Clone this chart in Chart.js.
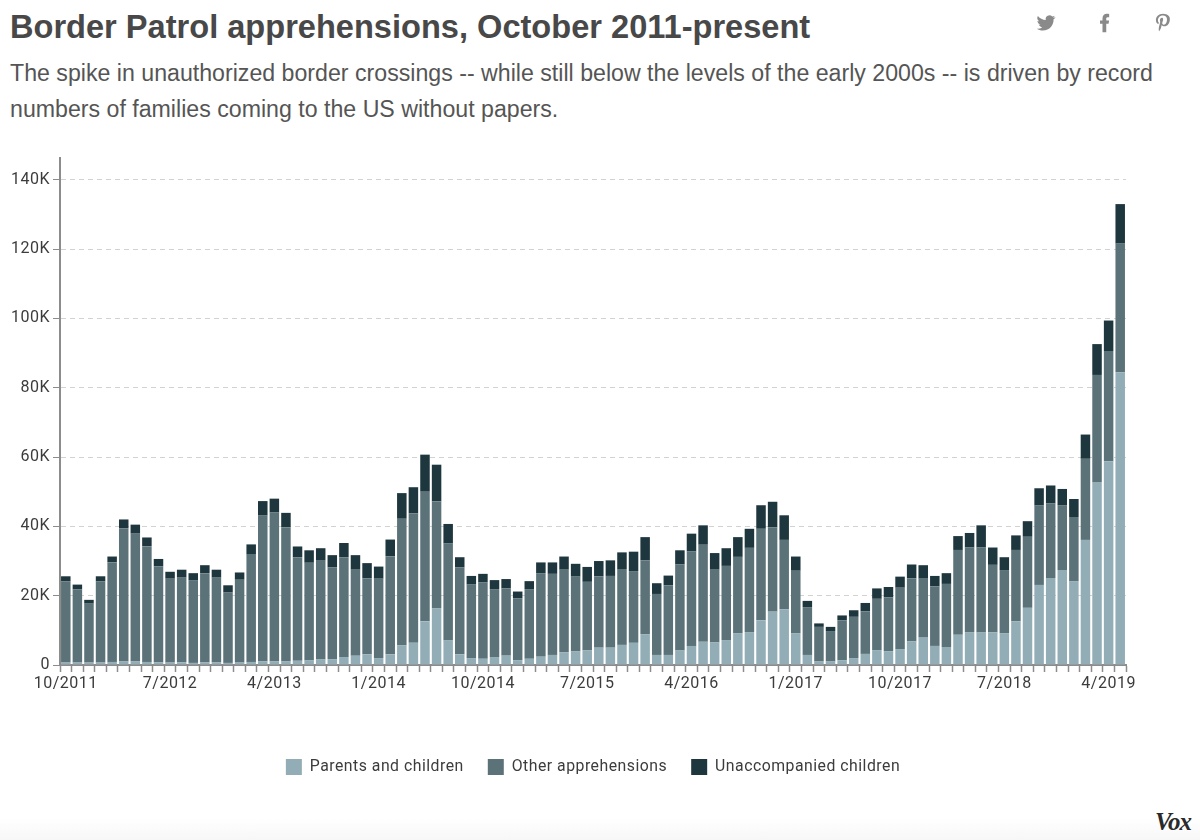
<!DOCTYPE html>
<html>
<head>
<meta charset="utf-8">
<title>Border Patrol apprehensions</title>
<script src="https://cdn.jsdelivr.net/npm/chart.js@4/dist/chart.umd.min.js"></script>
<style>
  html, body { margin: 0; padding: 0; background: #fff; }
  body { width: 1200px; height: 840px; position: relative; overflow: hidden; font-family: "Liberation Sans", sans-serif; }
  h1 { position: absolute; left: 10px; top: 8px; margin: 0; font-size: 32.6px; line-height: 38px; font-weight: bold; color: #484848; white-space: nowrap; }
  p { position: absolute; left: 10px; top: 55px; margin: 0; font-size: 23.17px; line-height: 36px; color: #555; white-space: nowrap; }
  #chart { position: absolute; left: 0; top: 0; }
  #fade { position: absolute; left: 0; right: 0; bottom: 0; height: 22px; background: linear-gradient(#fff, #f7f7f7); }
  .icon { position: absolute; top: 13px; width: 20px; height: 20px; fill: #8a8a8a; }
  #vox { position: absolute; left: 1155px; top: 808px; font: italic bold 25px "Liberation Serif", serif; letter-spacing: -1px; color: #2a2a2a; }
</style>
</head>
<body>
<div id="fade"></div>
<h1>Border Patrol apprehensions, October 2011-present</h1>
<p>The spike in unauthorized border crossings -- while still below the levels of the early 2000s -- is driven by record<br>numbers of families coming to the US without papers.</p>
<svg class="icon" style="left:1036px" viewBox="0 0 24 24"><path d="M23 5c-.8.4-1.700.6-2.600.7.900-.6 1.600-1.400 2-2.500-.9.500-1.800.9-2.900 1.100A4.600 4.600 0 0 0 11.700 8.500 13 13 0 0 1 2.300 3.700a4.600 4.600 0 0 0 1.400 6.100c-.7 0-1.400-.2-2-.6 0 2.200 1.500 4.100 3.700 4.600-.7.200-1.400.2-2.100.1.600 1.800 2.300 3.100 4.300 3.200A9.300 9.300 0 0 1 1 19c2.100 1.300 4.500 2.100 7.100 2.100 8.500 0 13.300-7.200 13-13.600.9-.7 1.700-1.500 2.300-2.500z"/></svg>
<svg class="icon" style="left:1095px" viewBox="0 0 24 24"><path d="M9 23V13H6V9h3V6.500C9 3 11 1 14.200 1c1.400 0 2.800.2 2.800.2V5h-1.800C13.600 5 13.500 6 13.500 7v2h3.400l-.6 4h-2.800v10z"/></svg>
<svg class="icon" style="left:1153px" viewBox="0 0 24 24"><path d="M12.300 1C6.300 1 3.500 5 3.500 8.500c0 2.100.8 4 2.500 4.700.3.100.5 0 .6-.3l.3-1c.1-.3 0-.4-.2-.7-.5-.6-.8-1.300-.8-2.400 0-3 2.300-5.800 5.900-5.800 3.200 0 5 2 5 4.600 0 3.500-1.500 6.400-3.800 6.400-1.300 0-2.200-1-1.900-2.300.4-1.500 1.100-3.200 1.100-4.300 0-1-.5-1.800-1.600-1.800-1.300 0-2.300 1.300-2.300 3.100 0 1.100.4 1.900.4 1.900l-1.600 6.600c-.4 1.900-.1 4.300 0 4.500 0 .2.200.2.300.1.100-.2 1.700-2.100 2.200-4l.9-3.400c.4.800 1.700 1.600 3 1.600 4 0 6.700-3.600 6.700-8.500C20.700 4.500 17.300 1 12.300 1z"/></svg>
<div id="vox">Vox</div>
<canvas id="chart" width="1200" height="785"></canvas>
<script>
const monthLabels = [
  '10/2011','11/2011','12/2011','1/2012','2/2012','3/2012','4/2012','5/2012','6/2012','7/2012','8/2012','9/2012',
  '10/2012','11/2012','12/2012','1/2013','2/2013','3/2013','4/2013','5/2013','6/2013','7/2013','8/2013','9/2013',
  '10/2013','11/2013','12/2013','1/2014','2/2014','3/2014','4/2014','5/2014','6/2014','7/2014','8/2014','9/2014',
  '10/2014','11/2014','12/2014','1/2015','2/2015','3/2015','4/2015','5/2015','6/2015','7/2015','8/2015','9/2015',
  '10/2015','11/2015','12/2015','1/2016','2/2016','3/2016','4/2016','5/2016','6/2016','7/2016','8/2016','9/2016',
  '10/2016','11/2016','12/2016','1/2017','2/2017','3/2017','4/2017','5/2017','6/2017','7/2017','8/2017','9/2017',
  '10/2017','11/2017','12/2017','1/2018','2/2018','3/2018','4/2018','5/2018','6/2018','7/2018','8/2018','9/2018',
  '10/2018','11/2018','12/2018','1/2019','2/2019','3/2019','4/2019','5/2019'
];

// valeurs en milliers
const parentsChildren = [
  .7,.7,.7,.7,.9,1,1,.9,.8,.7,.8,.6,.7,.7,.6,.7,.9,1.1,1.1,1,1.2,1.4,1.6,1.7,2.3,2.7,3.1,2,3.1,5.6,6.4,12.6,16.3,7.1,3.1,2,
  1.8,2.3,2.7,1.4,1.8,2.4,2.9,3.7,3.9,4.2,5,5,5.8,6.4,8.9,2.9,2.9,4.2,5.5,6.7,6.5,7.2,9.2,9.5,12.9,15.4,16.1,9.2,2.9,1,
  1,1.4,2,3.2,4.3,4,4.6,6.8,7.9,5.5,5.2,8.7,9.5,9.4,9.4,9.2,12.6,16.5,23.1,25.1,27.4,24.1,36.1,52.8,58.8,84.5
];
const otherApprehensions = [
  23.4,21.1,17,23.4,28.7,38.4,36.9,33.4,27.7,24.2,24.4,23.9,25.8,24.5,20.3,23.9,31.1,42,42.9,38.7,29.9,28.1,28.5,26.5,28.8,24.8,21.9,22.9,28.3,36.6,37.4,37.4,30.9,28,25.1,21.2,
  22,19.6,19.4,17.8,20.1,24.1,23.4,23.8,21.6,19.8,20.6,20.7,21.9,20.7,21.3,17.6,20.1,24.8,27.3,28,21,21.4,22,24.3,26.4,24.3,20,18,13.8,10,
  8.8,11.5,11.9,12.3,14.8,15.5,17.7,18.2,17,17.2,18.2,24.5,24.4,24.5,19.5,18.2,20.6,20.5,22.9,21.5,18.6,18.6,23.4,30.9,31.8,37.1
];
const unaccompaniedChildren = [
  1.5,1.4,1.1,1.5,1.7,2.6,2.6,2.5,2.1,2,2.3,2,2.3,2.3,2.1,2.1,2.8,4.2,4,4.2,3.1,3.6,3.6,3.5,4.1,4.2,4.4,3.5,4.8,7.4,7.5,10.7,10.6,5.6,2.9,2.5,
  2.5,2.6,2.7,2,2.3,3.1,3.3,3.8,3.7,4.3,4.4,4.5,4.8,5.6,6.7,3.1,2.8,4.1,5.1,5.6,4.8,5.1,5.7,5.5,6.8,7.4,7.1,4.1,1.8,1,
  1.2,1.4,1.9,2.4,3,3,3.2,4,3.9,3,3.1,4,4.2,6.4,5,3.7,4.2,4.5,5,5.2,4.8,5.2,7,8.9,8.8,11.4
];

const COLOR_PARENTS = '#92adb6';
const COLOR_OTHER = '#5b7279';
const COLOR_UNACC = '#1e363d';
const AXIS_COLOR = '#8c8c8c';
const TEXT_COLOR = '#3c3c3c';

const letterSpacing = {
  id: 'letterSpacing',
  beforeLayout: (chart) => { chart.ctx.letterSpacing = '0.5px'; },
  beforeDraw: (chart) => { chart.ctx.letterSpacing = '0.5px'; },
};

function serie(label, data, color) {
  return { label, data, backgroundColor: color, borderWidth: 0, barPercentage: 0.82, categoryPercentage: 1 };
}

new Chart(document.getElementById('chart'), {
  type: 'bar',
  plugins: [letterSpacing],
  data: {
    labels: monthLabels,
    datasets: [
      serie('Parents and children', parentsChildren, COLOR_PARENTS),
      serie('Other apprehensions', otherApprehensions, COLOR_OTHER),
      serie('Unaccompanied children', unaccompaniedChildren, COLOR_UNACC),
    ],
  },
  options: {
    responsive: false,
    animation: false,
    layout: { padding: { top: 158, right: 74, left: 0, bottom: 0 } },
    plugins: {
      tooltip: { enabled: false },
      legend: {
        position: 'bottom',
        fullSize: false,
        labels: {
          boxWidth: 16,
          boxHeight: 16,
          padding: 24,
          color: TEXT_COLOR,
          font: { family: 'Roboto', size: 15.8 },
        },
      },
    },
    scales: {
      x: {
        stacked: true,
        afterFit: (scale) => { scale.height = 70; },
        grid: { drawOnChartArea: false, offset: true, tickLength: 7, tickColor: AXIS_COLOR, tickWidth: 1.5 },
        border: { color: AXIS_COLOR, width: 2 },
        ticks: {
          autoSkip: false,
          maxRotation: 0,
          padding: 2,
          color: TEXT_COLOR,
          font: { family: 'Roboto', size: 16 },
          callback(v, i) { return i % 9 === 0 ? this.getLabelForValue(v) : ''; },
        },
      },
      y: {
        stacked: true,
        min: 0,
        max: 146.3,
        afterFit: (scale) => { scale.width = 60; },
        grid: { color: '#d2d2d2', tickColor: AXIS_COLOR, tickLength: 7, tickBorderDash: [] },
        border: { color: AXIS_COLOR, width: 2, dash: [5, 4] },
        ticks: {
          stepSize: 20,
          includeBounds: false,
          padding: 3,
          color: TEXT_COLOR,
          font: { family: 'Roboto', size: 16 },
          callback: (v) => (v === 0 ? '0' : v + 'K'),
        },
      },
    },
  },
});
</script>
</body>
</html>
